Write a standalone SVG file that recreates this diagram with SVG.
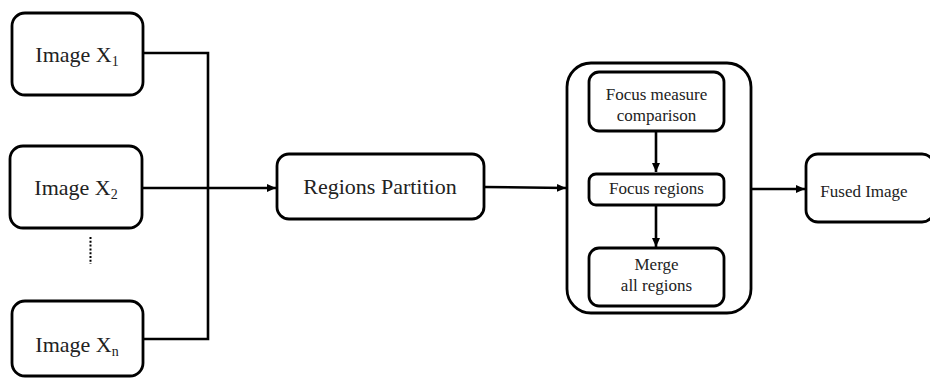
<svg xmlns="http://www.w3.org/2000/svg" width="930" height="378" viewBox="0 0 930 378">
<style>
.box{fill:#fff;stroke:#000;stroke-width:2.8}
.t{font-family:"Liberation Serif","Times New Roman",serif;fill:#222;text-anchor:middle}
.big{font-size:22px}
.sm{font-size:17px}
.sub{font-size:14px}
.ln{fill:none;stroke:#000;stroke-width:2.6}
</style>
<defs>
<marker id="ah" markerWidth="10" markerHeight="10" refX="9" refY="5" orient="auto" markerUnits="userSpaceOnUse">
<path d="M0,1 L9,5 L0,9 Z" fill="#000"/>
</marker>
</defs>
<rect width="930" height="378" fill="#fff"/>
<g id="imageX1">
<rect class="box" x="12" y="13" width="131" height="82" rx="13"/>
<text class="t big" x="77" y="62">Image X<tspan class="sub" dy="4">1</tspan></text>
</g>
<g id="imageX2">
<rect class="box" x="10" y="146" width="132" height="82" rx="13"/>
<text class="t big" x="76" y="195">Image X<tspan class="sub" dy="4">2</tspan></text>
</g>
<g id="imageXn">
<rect class="box" x="12" y="301" width="131" height="75" rx="13"/>
<text class="t big" x="77" y="352">Image X<tspan class="sub" dy="4">n</tspan></text>
</g>
<g id="regionsPartition">
<rect class="box" x="277" y="154" width="207" height="65" rx="12"/>
<text class="t big" x="380" y="194">Regions Partition</text>
</g>
<g id="fusionGroup">
<rect class="box" x="567" y="63" width="184" height="250" rx="24"/>
</g>
<g id="focusMeasure">
<rect class="box" x="589" y="72" width="135" height="59" rx="10"/>
<text class="t sm" x="656.5" y="100">Focus measure</text>
<text class="t sm" x="656.5" y="121">comparison</text>
</g>
<g id="focusRegions">
<rect class="box" x="589" y="174" width="135" height="31" rx="7"/>
<text class="t sm" x="656.5" y="194">Focus regions</text>
</g>
<g id="mergeRegions">
<rect class="box" x="589" y="248" width="135" height="58" rx="10"/>
<text class="t sm" x="656.5" y="270">Merge</text>
<text class="t sm" x="656.5" y="291">all regions</text>
</g>
<g id="fusedImage">
<rect class="box" x="806" y="154" width="128" height="68" rx="12"/>
<text class="t sm" x="864" y="197">Fused Image</text>
</g>
<g id="connectors">
<path class="ln" d="M143,53 H208 V339 H143"/>
<path class="ln" d="M142,188 H276" marker-end="url(#ah)"/>
<path class="ln" d="M484,187 L566,188" marker-end="url(#ah)"/>
<path class="ln" d="M656,132 V172" marker-end="url(#ah)"/>
<path class="ln" d="M656,206 V247" marker-end="url(#ah)"/>
<path class="ln" d="M752,189 H805" marker-end="url(#ah)"/>
<line x1="90.5" y1="237" x2="90.5" y2="264" stroke="#000" stroke-width="2" stroke-dasharray="2,1.8"/>
</g>
</svg>
